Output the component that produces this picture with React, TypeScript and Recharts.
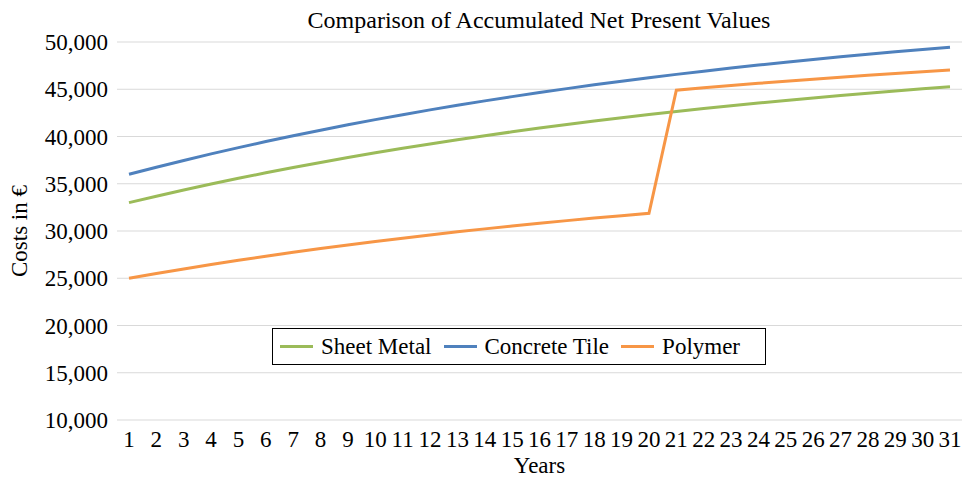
import { LineChart, Line, XAxis, YAxis, CartesianGrid, Legend } from 'recharts'

const years = [
    '1', '2', '3', '4', '5', '6', '7', '8', '9', '10', '11', '12', '13', '14', '15', '16',
    '17', '18', '19', '20', '21', '22', '23', '24', '25', '26', '27', '28', '29', '30', '31'
]

const sheetMetal = [
    33000, 33682, 34338, 34969, 35576, 36159, 36720, 37259, 37777, 38276, 38755, 39216, 39660, 40086, 40496, 40890,
    41269, 41633, 41983, 42320, 42644, 42955, 43254, 43542, 43819, 44085, 44341, 44587, 44824, 45052, 45270
]

const concreteTile = [
    36000, 36748, 37467, 38159, 38824, 39463, 40078, 40670, 41238, 41785, 42310, 42816, 43302, 43769, 44218, 44650,
    45065, 45465, 45849, 46218, 46573, 46915, 47243, 47559, 47862, 48154, 48435, 48704, 48964, 49213, 49453
]

const polymer = [
    25000, 25503, 25987, 26452, 26900, 27330, 27743, 28141, 28523, 28891, 29244, 29584, 29911, 30225, 30528, 30818,
    31098, 31366, 31625, 31873, 44900, 45152, 45395, 45628, 45853, 46068, 46276, 46475, 46667, 46851, 47028
]

const yTicks = [10000, 15000, 20000, 25000, 30000, 35000, 40000, 45000, 50000]

const series = [
    { key: 'sheetMetal', name: 'Sheet Metal', color: '#9bbb59' },
    { key: 'concreteTile', name: 'Concrete Tile', color: '#4f81bd' },
    { key: 'polymer', name: 'Polymer', color: '#f79646' }
]

const data = years.map((year, i) => ({
    year,
    sheetMetal: sheetMetal[i],
    concreteTile: concreteTile[i],
    polymer: polymer[i]
}))

const FONT = '"Liberation Serif", "Times New Roman", serif'

// legend drawn in series order (recharts would sort it by name)
function BoxLegend() {
    return (
        <div
            style={{
                boxSizing: 'border-box',
                width: 494,
                height: 37,
                border: '1px solid #000',
                background: '#fff',
                display: 'flex',
                alignItems: 'center',
                paddingLeft: 7,
                fontFamily: FONT,
                fontSize: 23,
                color: '#000',
                lineHeight: 1,
                whiteSpace: 'nowrap'
            }}
        >
            {series.map((s, i) => (
                <div
                    key={s.key}
                    style={{ display: 'flex', alignItems: 'center', flexShrink: 0, marginRight: i < series.length - 1 ? 12 : 0 }}
                >
                    <span style={{ display: 'inline-block', width: 33, height: 3, background: s.color, marginRight: 8 }} />
                    <span>{s.name}</span>
                </div>
            ))}
        </div>
    )
}

export default function App() {
    return (
        <div style={{ position: 'absolute', left: 0, top: 0, width: 962, height: 477, background: '#fff' }}>
            <LineChart width={962} height={477} data={data} margin={{ top: 42, right: 0, left: 0, bottom: 0 }}>
                <text x={539} y={28} textAnchor="middle" fontFamily={FONT} fontSize={24} fill="#000">
                    Comparison of Accumulated Net Present Values
                </text>
                <text
                    x={27}
                    y={231}
                    transform="rotate(-90, 27, 231)"
                    textAnchor="middle"
                    fontFamily={FONT}
                    fontSize={23}
                    fill="#000"
                >
                    Costs in €
                </text>
                <CartesianGrid vertical={false} stroke="#d9d9d9" strokeWidth={1} />
                <XAxis
                    dataKey="year"
                    interval={0}
                    height={57}
                    padding={{ left: 12, right: 12 }}
                    axisLine={false}
                    tickLine={false}
                    tickMargin={5}
                    tick={{ fontFamily: FONT, fontSize: 23, fill: '#000' }}
                    label={{ value: 'Years', position: 'insideBottom', offset: 4, fontFamily: FONT, fontSize: 23, fill: '#000' }}
                />
                <YAxis
                    width={117}
                    domain={[10000, 50000]}
                    ticks={yTicks}
                    axisLine={false}
                    tickLine={false}
                    tickMargin={3}
                    tickFormatter={(v: number) => v.toLocaleString('en-US')}
                    tick={{ fontFamily: FONT, fontSize: 23, fill: '#000' }}
                />
                <Legend
                    layout="horizontal"
                    verticalAlign="middle"
                    content={<BoxLegend />}
                    wrapperStyle={{ left: 272, top: 328, width: 494, height: 37 }}
                />
                {series.map((s) => (
                    <Line
                        key={s.key}
                        type="linear"
                        dataKey={s.key}
                        name={s.name}
                        stroke={s.color}
                        strokeWidth={3}
                        dot={false}
                        isAnimationActive={false}
                    />
                ))}
            </LineChart>
        </div>
    )
}
